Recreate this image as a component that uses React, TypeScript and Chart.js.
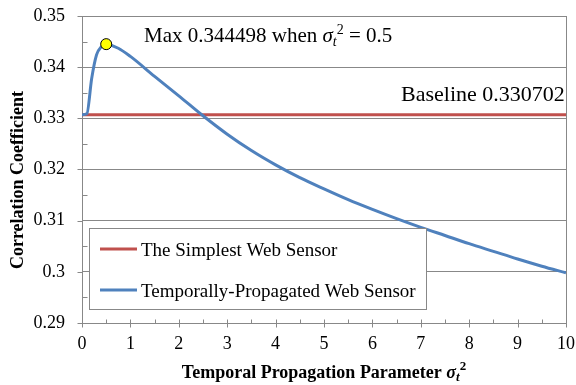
import React, { useEffect, useRef } from "react";
import { Chart, registerables } from "chart.js";

Chart.register(...registerables);

// ---- data ----
const sigmaValues = [0, 0.1, 0.2, 0.3, 0.4, 0.5, 0.75, 1, 1.5, 2, 2.5, 3, 3.5, 4, 4.5, 5, 5.5, 6, 6.5, 7, 7.5, 8, 8.5, 9, 9.5, 10];
const propagatedValues = [0.330702, 0.3309, 0.3378, 0.3424, 0.344, 0.344498, 0.3437, 0.3421, 0.3382, 0.3344, 0.3305, 0.3269, 0.3237, 0.3209, 0.3184, 0.3162, 0.3141, 0.3122, 0.3104, 0.3087, 0.3071, 0.3055, 0.304, 0.3025, 0.3011, 0.2998];
const baselineValue = 0.330702;
const baselineXs = [0, 10];
const maxSigma = 0.5;
const maxValue = 0.344498;
const xTickValues = [0, 1, 2, 3, 4, 5, 6, 7, 8, 9, 10];
const xMinorValues = [0.5, 1.5, 2.5, 3.5, 4.5, 5.5, 6.5, 7.5, 8.5, 9.5];
const yTickValues = [0.29, 0.3, 0.31, 0.32, 0.33, 0.34, 0.35];
const yMinorValues = [0.295, 0.305, 0.315, 0.325, 0.335, 0.345];
const legendLabels = ["The Simplest Web Sensor", "Temporally-Propagated Web Sensor"];

const SERIF = '"Liberation Serif", serif';
const GRID = "#888888";
const RED = "#C0504D";
const BLUE = "#4F81BD";

type Seg = { text: string; font: string; dy?: number };

function drawRich(ctx: CanvasRenderingContext2D, segs: Seg[], x: number, y: number, align: "left" | "center" | "right") {
  let total = 0;
  for (const s of segs) {
    ctx.font = s.font;
    total += ctx.measureText(s.text).width;
  }
  let cx = align === "left" ? x : align === "center" ? x - total / 2 : x - total;
  ctx.textAlign = "left";
  ctx.textBaseline = "alphabetic";
  for (const s of segs) {
    ctx.font = s.font;
    ctx.fillText(s.text, cx, y + (s.dy || 0));
    cx += ctx.measureText(s.text).width;
  }
}

const zeroPad = (s: any) => {
  s.paddingLeft = 0;
  s.paddingRight = 0;
  s.paddingTop = 0;
  s.paddingBottom = 0;
};

const decorPlugin = {
  id: "decor",
  afterDatasetsDraw(chart: any) {
    const { ctx, chartArea: a, scales } = chart;
    const xs = scales.x;
    const ys = scales.y;
    const L = Math.round(a.left) + 0.5;
    const B = Math.round(a.bottom) + 0.5;
    ctx.save();
    ctx.strokeStyle = GRID;
    ctx.lineWidth = 1;
    // right border
    ctx.beginPath();
    ctx.moveTo(Math.round(a.right) + 0.5, a.top);
    ctx.lineTo(Math.round(a.right) + 0.5, a.bottom);
    ctx.stroke();
    // tick marks
    ctx.beginPath();
    for (const v of yTickValues) {
      const py = Math.round(ys.getPixelForValue(v)) + 0.5;
      ctx.moveTo(L - 5, py);
      ctx.lineTo(L, py);
    }
    for (const v of yMinorValues) {
      const py = Math.round(ys.getPixelForValue(v)) + 0.5;
      ctx.moveTo(L, py);
      ctx.lineTo(L + 5, py);
    }
    for (const v of xTickValues) {
      const px = Math.round(xs.getPixelForValue(v)) + 0.5;
      ctx.moveTo(px, B - 4);
      ctx.lineTo(px, B + 4);
    }
    for (const v of xMinorValues) {
      const px = Math.round(xs.getPixelForValue(v)) + 0.5;
      ctx.moveTo(px, B - 4);
      ctx.lineTo(px, B);
    }
    ctx.stroke();

    // legend box
    const lx = 89.5, ly = 228.5, lw = 337, lh = 81;
    ctx.fillStyle = "#ffffff";
    ctx.fillRect(lx, ly, lw, lh);
    ctx.strokeStyle = GRID;
    ctx.strokeRect(lx, ly, lw, lh);
    const rows = [
      { color: RED, label: legendLabels[0], y: 249 },
      { color: BLUE, label: legendLabels[1], y: 290 },
    ];
    for (const r of rows) {
      ctx.strokeStyle = r.color;
      ctx.lineWidth = 3;
      ctx.beginPath();
      ctx.moveTo(100, r.y);
      ctx.lineTo(137, r.y);
      ctx.stroke();
      ctx.fillStyle = "#000";
      drawRich(ctx, [{ text: r.label, font: `19px ${SERIF}` }], 141, r.y + 6.5, "left");
    }

    // annotations
    ctx.fillStyle = "#000";
    const f = `21px ${SERIF}`;
    const fi = `italic 21px ${SERIF}`;
    const fs = `italic 14px ${SERIF}`;
    const fsup = `14px ${SERIF}`;
    drawRich(
      ctx,
      [
        { text: `Max ${maxValue} when `, font: f },
        { text: "σ", font: fi },
        { text: "t", font: fs, dy: 4 },
        { text: "2", font: fsup, dy: -8 },
        { text: ` = ${maxSigma}`, font: f },
      ],
      144,
      41.5,
      "left"
    );
    drawRich(ctx, [{ text: `Baseline ${baselineValue}`, font: `22px ${SERIF}` }], 401, ys.getPixelForValue(baselineValue) - 14, "left");

    // axis titles
    const bf = `bold 18px ${SERIF}`;
    const bfi = `bold italic 18px ${SERIF}`;
    const bfs = `bold italic 13px ${SERIF}`;
    const bfsup = `bold 13px ${SERIF}`;
    drawRich(
      ctx,
      [
        { text: "Temporal Propagation Parameter ", font: bf },
        { text: "σ", font: bfi },
        { text: "t", font: bfs, dy: 3 },
        { text: "2", font: bfsup, dy: -8 },
      ],
      (a.left + a.right) / 2,
      378,
      "center"
    );
    ctx.save();
    ctx.translate(23, 180);
    ctx.rotate(-Math.PI / 2);
    drawRich(ctx, [{ text: "Correlation Coefficient", font: bf }], 0, 0, "center");
    ctx.restore();

    ctx.restore();
  },
};

export default function App() {
  const ref = useRef<HTMLCanvasElement | null>(null);
  useEffect(() => {
    document.body.style.margin = "0";
    let chart: any = null;
    let cancelled = false;
    const fonts = [
      `18px "Liberation Serif"`,
      `22px "Liberation Serif"`,
      `bold 18px "Liberation Serif"`,
      `italic 22px "Liberation Serif"`,
      `bold italic 18px "Liberation Serif"`,
    ];
    const make = () => {
      const canvas = ref.current;
      if (cancelled || !canvas) return;
      chart = new Chart(canvas, {
        type: "line",
        data: {
          datasets: [
            {
              label: "Max",
              data: [{ x: maxSigma, y: maxValue }],
              showLine: false,
              pointRadius: 5.5,
              pointBackgroundColor: "#FFFF00",
              pointBorderColor: "#000000",
              pointBorderWidth: 1,
            },
            {
              label: legendLabels[1],
              data: sigmaValues.map((x, i) => ({ x, y: propagatedValues[i] })),
              borderColor: BLUE,
              borderWidth: 3,
              pointRadius: 0,
              cubicInterpolationMode: "monotone",
              fill: false,
            },
            {
              label: legendLabels[0],
              data: baselineXs.map((x) => ({ x, y: baselineValue })),
              borderColor: RED,
              borderWidth: 3,
              pointRadius: 0,
              fill: false,
            },
          ],
        },
        options: {
          responsive: false,
          animation: false,
          layout: { padding: { top: 16, right: 10, left: 0, bottom: 0 } },
          plugins: { legend: { display: false }, tooltip: { enabled: false } },
          scales: {
            x: {
              type: "linear",
              min: 0,
              max: 10,
              afterFit: (s: any) => {
                s.height = 62;
                zeroPad(s);
              },
              afterBuildTicks: (s: any) => {
                s.ticks = xTickValues.map((v) => ({ value: v }));
              },
              grid: { display: false, drawTicks: false },
              border: { display: true, color: GRID, width: 1 },
              ticks: {
                padding: 10,
                color: "#000",
                font: { family: SERIF, size: 18 },
                maxRotation: 0,
                autoSkip: false,
              },
            },
            y: {
              type: "linear",
              min: 0.29,
              max: 0.35,
              afterFit: (s: any) => {
                s.width = 82;
                zeroPad(s);
              },
              afterBuildTicks: (s: any) => {
                s.ticks = yTickValues.map((v) => ({ value: v }));
              },
              grid: { color: GRID, lineWidth: 1, drawTicks: false },
              border: { display: true, color: GRID, width: 1 },
              ticks: {
                padding: 17,
                color: "#000",
                font: { family: SERIF, size: 18 },
                callback: (v: any) => String(Number(Number(v).toFixed(3))),
              },
            },
          },
        },
        plugins: [decorPlugin],
      } as any);
    };
    const fs: any = (document as any).fonts;
    if (fs && fs.load) {
      Promise.all(fonts.map((f) => fs.load(f)))
        .catch(() => null)
        .then(make);
    } else {
      make();
    }
    return () => {
      cancelled = true;
      if (chart) chart.destroy();
    };
  }, []);
  return <canvas ref={ref} width={576} height={385} style={{ display: "block" }} />;
}
